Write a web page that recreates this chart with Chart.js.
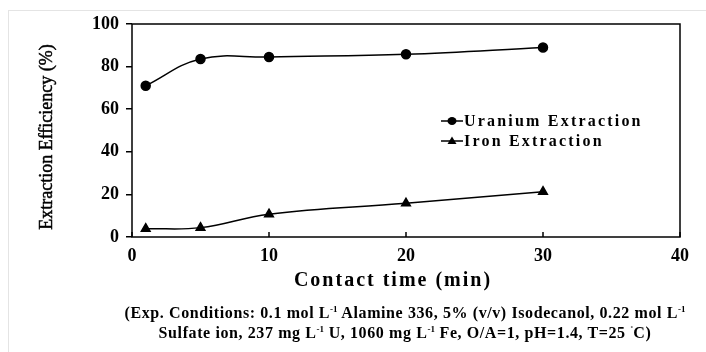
<!DOCTYPE html>
<html>
<head>
<meta charset="utf-8">
<script src="https://cdn.jsdelivr.net/npm/chart.js@4"></script>
<style>
    body { margin: 0; background: #fff; }
    #wrap { position: relative; width: 706px; height: 352px; }
    #frame { position: absolute; left: 8px; top: 10px; right: 0; bottom: 0;
             border-top: 1px solid #e4e4e4; border-left: 1px solid #e4e4e4; }
    #caption { position: absolute; left: 60px; width: 690px; top: 303px; text-align: center;
               font: bold 16px "Liberation Serif", serif; letter-spacing: 0.6px; line-height: 20px; color: #000; }
    #caption sup { font-size: 9px; vertical-align: 6px; line-height: 0; letter-spacing: 0; }
</style>
</head>
<body>
<div id="wrap">
    <div id="frame"></div>
    <canvas id="chart" width="706" height="352"></canvas>
    <div id="caption">(Exp. Conditions: 0.1 mol L<sup>-1</sup> Alamine 336, 5% (v/v) Isodecanol, 0.22 mol L<sup>-1</sup><br>Sulfate ion, 237 mg L<sup>-1</sup> U, 1060 mg L<sup>-1</sup> Fe, O/A=1, pH=1.4, T=25 <sup>˚</sup>C)</div>
</div>
<script>
// --- Data ---
const contactTimes = [1, 5, 10, 20, 30];
const uraniumExtraction = [71, 83.6, 84.5, 85.8, 89];
const ironExtraction = [3.9, 4.4, 10.7, 15.8, 21.3];
const seriesLabels = ['Uranium Extraction', 'Iron Extraction'];
const xTitle = 'Contact time (min)';
const yTitle = 'Extraction Efficiency (%)';

const serif = '"Liberation Serif", "Times New Roman", serif';

// box, inside x ticks, titles and the little legend in the plot
const decorPlugin = {
    id: 'decor',
    afterDraw(chart) {
        const ctx = chart.ctx;
        const area = chart.chartArea;
        const xs = chart.scales.x;
        ctx.save();
        ctx.strokeStyle = '#000';
        ctx.lineWidth = 1.5;
        ctx.strokeRect(area.left, area.top, area.right - area.left, area.bottom - area.top);

        // x ticks pointing inward
        xs.ticks.forEach(t => {
            const px = xs.getPixelForValue(t.value);
            ctx.beginPath();
            ctx.moveTo(px, area.bottom);
            ctx.lineTo(px, area.bottom - 5);
            ctx.stroke();
        });

        // axis titles
        ctx.fillStyle = '#000';
        ctx.textAlign = 'center';
        ctx.textBaseline = 'middle';
        ctx.font = 'bold 20px ' + serif;
        ctx.letterSpacing = '2px';
        ctx.fillText(xTitle, 393, 281);
        ctx.letterSpacing = '0px';

        ctx.save();
        ctx.translate(47, 137);
        ctx.rotate(-Math.PI / 2);
        ctx.font = '18px ' + serif;
        ctx.lineWidth = 0.5;
        ctx.fillText(yTitle, 0, 0);
        ctx.strokeText(yTitle, 0, 0);
        ctx.restore();

        // legend
        ctx.textAlign = 'left';
        ctx.font = 'bold 16px ' + serif;
        ctx.letterSpacing = '2.2px';
        chart.data.datasets.forEach((ds, i) => {
            const y = 121 + i * 20;
            ctx.lineWidth = 1.5;
            ctx.beginPath();
            ctx.moveTo(441, y);
            ctx.lineTo(463, y);
            ctx.stroke();
            ctx.beginPath();
            if (ds.pointStyle === 'triangle') {
                ctx.moveTo(452, y - 4.5);
                ctx.lineTo(456.5, y + 3);
                ctx.lineTo(447.5, y + 3);
                ctx.closePath();
            } else {
                ctx.ellipse(452, y, 4.5, 4, 0, 0, Math.PI * 2);
            }
            ctx.fill();
            ctx.fillText(ds.label, 464, y + 1);
        });
        ctx.restore();
    }
};

new Chart(document.getElementById('chart'), {
    type: 'line',
    data: {
        datasets: [
            {
                label: seriesLabels[0],
                data: contactTimes.map((t, i) => ({ x: t, y: uraniumExtraction[i] })),
                borderColor: '#000',
                backgroundColor: '#000',
                borderWidth: 1.5,
                tension: 0.4,
                pointStyle: 'circle',
                pointRadius: 4.5
            },
            {
                label: seriesLabels[1],
                data: contactTimes.map((t, i) => ({ x: t, y: ironExtraction[i] })),
                borderColor: '#000',
                backgroundColor: '#000',
                borderWidth: 1.5,
                tension: 0.4,
                pointStyle: 'triangle',
                pointRadius: 5
            }
        ]
    },
    options: {
        responsive: false,
        animation: false,
        layout: { padding: { left: 0, right: 26, top: 24, bottom: 70 } },
        scales: {
            x: {
                type: 'linear',
                min: 0,
                max: 40,
                ticks: { stepSize: 10, color: '#000', font: { family: serif, size: 18, weight: 'bold' }, padding: 1 },
                grid: { display: false },
                border: { display: false },
                afterFit: s => { s.height = 45; }
            },
            y: {
                min: 0,
                max: 100,
                ticks: { stepSize: 20, color: '#000', font: { family: serif, size: 18, weight: 'bold' }, padding: 7 },
                grid: { drawOnChartArea: false, tickLength: 6, color: '#000', lineWidth: 1.5 },
                border: { display: false },
                afterFit: s => { s.width = 132; }
            }
        },
        plugins: {
            legend: { display: false },
            tooltip: { enabled: false }
        }
    },
    plugins: [decorPlugin]
});
</script>
</body>
</html>
